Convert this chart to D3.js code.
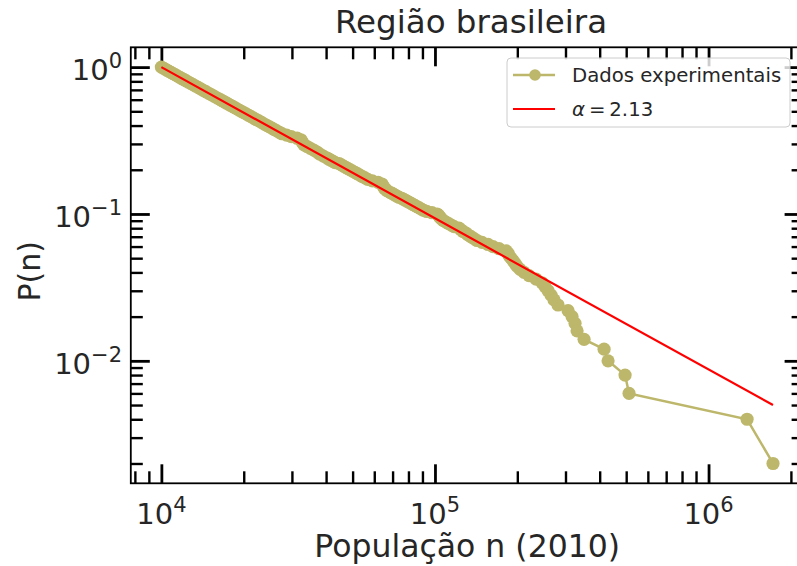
<!DOCTYPE html>
<html>
<head>
<meta charset="utf-8">
<script src="https://cdn.jsdelivr.net/npm/d3@7"></script>
<style>
  body { margin: 0; background: #ffffff; }
  svg { display: block; }
  text { font-family: "DejaVu Sans", sans-serif; }
</style>
</head>
<body>
<svg id="chart" width="797" height="566"></svg>
<script>
// Complementary cumulative distribution of municipal populations (2010)
// n: population, P(n): fraction of municipalities with population >= n
const popN = [
  10000, 10160, 10320, 10490, 10660, 10840, 11030, 11220, 11420, 11630,
  11840, 12070, 12300, 12540, 12800, 13060, 13330, 13620, 13910, 14220,
  14550, 14890, 15250, 15620, 16020, 16430, 16700, 16980, 17270, 17570,
  17880, 18200, 18530, 18880, 19240, 19610, 20000, 20410, 20830, 21270,
  21730, 22210, 22710, 23230, 23780, 24360, 24850, 25350, 25870, 26420,
  26990, 27580, 28690, 29850, 31340, 32370, 32620, 32900, 33200, 34090,
  35040, 36040, 37100, 37910, 39100, 40360, 41030, 41720, 42430, 43160,
  44670, 45470, 46300, 47170, 48070, 49000, 49970, 50990, 52040, 53140,
  54290, 55490, 56740, 59040, 61990, 64030, 64530, 65070, 65670, 66880,
  68740, 69700, 70700, 71730, 72780, 73870, 75630, 76790, 78000, 79240,
  80520, 81840, 83210, 84630, 86100, 87620, 89190, 90820, 93310, 97500,
  101900, 103100, 103900, 104700, 106000, 107400, 109700, 112200, 114800, 117500,
  122500, 124600, 126700, 129900, 132100, 135500, 139000, 142500, 148600, 156400,
  163100, 171500, 182000, 185000, 186600, 189700, 193000, 196300, 199600, 204700,
  211700, 220800, 234200, 246300, 252600, 259100, 265700, 272500, 281800, 306500,
  317000, 325100, 330700, 350800, 415100, 429300, 495300, 512200, 1383000, 1720500
];
const probP = [
  1.000, 0.984, 0.968, 0.952, 0.936, 0.920, 0.904, 0.888, 0.872, 0.856,
  0.840, 0.824, 0.808, 0.792, 0.776, 0.760, 0.744, 0.728, 0.712, 0.696,
  0.680, 0.664, 0.648, 0.632, 0.616, 0.600, 0.590, 0.580, 0.570, 0.560,
  0.550, 0.540, 0.530, 0.520, 0.510, 0.500, 0.490, 0.480, 0.470, 0.460,
  0.450, 0.440, 0.430, 0.420, 0.410, 0.400, 0.392, 0.384, 0.376, 0.368,
  0.360, 0.352, 0.344, 0.336, 0.328, 0.320, 0.312, 0.304, 0.296, 0.288,
  0.280, 0.272, 0.264, 0.256, 0.248, 0.240, 0.236, 0.232, 0.228, 0.224,
  0.220, 0.216, 0.212, 0.208, 0.204, 0.200, 0.196, 0.192, 0.188, 0.184,
  0.180, 0.176, 0.172, 0.168, 0.164, 0.160, 0.156, 0.152, 0.148, 0.144,
  0.140, 0.138, 0.136, 0.134, 0.132, 0.130, 0.128, 0.126, 0.124, 0.122,
  0.120, 0.118, 0.116, 0.114, 0.112, 0.110, 0.108, 0.106, 0.104, 0.102,
  0.100, 0.098, 0.096, 0.094, 0.092, 0.090, 0.088, 0.086, 0.084, 0.082,
  0.080, 0.078, 0.076, 0.074, 0.072, 0.070, 0.068, 0.066, 0.064, 0.062,
  0.060, 0.058, 0.056, 0.054, 0.052, 0.050, 0.048, 0.046, 0.044, 0.042,
  0.040, 0.038, 0.036, 0.034, 0.032, 0.030, 0.028, 0.026, 0.024, 0.022,
  0.020, 0.018, 0.016, 0.014, 0.012, 0.010, 0.008, 0.006, 0.004, 0.002
];

// Fitted power law, drawn between its two end points
const fitN = [10000, 1720000];
const fitP = [1.0, 0.0050];
const alphaValue = 2.13;

// Tick values and labels
const xMajorExp = [4, 5, 6];
const xMinorTicks = [8e3, 9e3, 2e4, 3e4, 4e4, 5e4, 6e4, 7e4, 8e4, 9e4,
                     2e5, 3e5, 4e5, 5e5, 6e5, 7e5, 8e5, 9e5, 2e6];
const yMajorExp = [-2, -1, 0];
const yMinorTicks = [2e-3, 3e-3, 4e-3, 5e-3, 6e-3, 7e-3, 8e-3, 9e-3,
                     2e-2, 3e-2, 4e-2, 5e-2, 6e-2, 7e-2, 8e-2, 9e-2,
                     0.2, 0.3, 0.4, 0.5, 0.6, 0.7, 0.8, 0.9];

const titleText = "Região brasileira";
const xLabelText = "População n (2010)";
const yLabelText = "P(n)";
const dataName = "Dados experimentais";

// ---- layout and styles ----
const box = { left: 130.8, right: 803.6, top: 47.3, bottom: 483.3 };
const dataColor = "#bdb76b";
const fitColor = "#ff0000";
const textColor = "#262626";
const majorLen = 19, minorLen = 12;

const svg = d3.select("#chart");

// log domain padded by 5% on each side (in log space)
function padLog(ext) {
  const lo = Math.log10(ext[0]), hi = Math.log10(ext[1]);
  const m = 0.05 * (hi - lo);
  return [Math.pow(10, lo - m), Math.pow(10, hi + m)];
}

const x = d3.scaleLog().domain(padLog(d3.extent(popN))).range([box.left, box.right]);
const y = d3.scaleLog().domain(padLog(d3.extent(probP))).range([box.bottom, box.top]);

const xMajor = xMajorExp.map(e => Math.pow(10, e));
const yMajor = yMajorExp.map(e => Math.pow(10, e));

// ---- ticks on all four sides, pointing inward ----
function drawAxis(axisGen, transform, values, len, width) {
  const g = svg.append("g")
    .attr("transform", transform)
    .call(axisGen.tickValues(values).tickSizeInner(-len).tickSizeOuter(0).tickFormat(() => ""));
  g.select(".domain").remove();
  g.selectAll(".tick line").attr("stroke", "#000").attr("stroke-width", width);
  g.selectAll(".tick text").remove();
  return g;
}

[[xMinorTicks, minorLen, 2.4], [xMajor, majorLen, 2.8]].forEach(([vals, len, w]) => {
  drawAxis(d3.axisBottom(x), `translate(0,${box.bottom})`, vals, len, w);
  drawAxis(d3.axisTop(x), `translate(0,${box.top})`, vals, len, w);
});
[[yMinorTicks, minorLen, 2.4], [yMajor, majorLen, 2.8]].forEach(([vals, len, w]) => {
  drawAxis(d3.axisLeft(y), `translate(${box.left},0)`, vals, len, w);
  drawAxis(d3.axisRight(y), `translate(${box.right},0)`, vals, len, w);
});

// frame
svg.append("rect")
  .attr("x", box.left).attr("y", box.top)
  .attr("width", box.right - box.left).attr("height", box.bottom - box.top)
  .attr("fill", "none").attr("stroke", "#000").attr("stroke-width", 1.8);

// ---- tick labels with superscript exponents ----
function expLabel(sel, e) {
  sel.append("tspan").text("10");
  sel.append("tspan")
    .attr("font-size", 21).attr("dy", -12)
    .text(e < 0 ? "\u2212" + Math.abs(e) : String(e));
}

svg.append("g").selectAll("text").data(xMajorExp).join("text")
  .attr("x", e => x(Math.pow(10, e)))
  .attr("y", 524)
  .attr("text-anchor", "middle")
  .attr("font-size", 29)
  .attr("fill", textColor)
  .each(function (e) { expLabel(d3.select(this), e); });

svg.append("g").selectAll("text").data(yMajorExp).join("text")
  .attr("x", 122)
  .attr("y", e => y(Math.pow(10, e)) + 13)
  .attr("text-anchor", "end")
  .attr("font-size", 29)
  .attr("fill", textColor)
  .each(function (e) { expLabel(d3.select(this), e); });

// ---- axis titles ----
svg.append("text")
  .attr("x", 471).attr("y", 33)
  .attr("text-anchor", "middle").attr("font-size", 32.5).attr("fill", textColor)
  .text(titleText);

svg.append("text")
  .attr("x", (box.left + box.right) / 2).attr("y", 557)
  .attr("text-anchor", "middle").attr("font-size", 31.5).attr("fill", textColor)
  .text(xLabelText);

svg.append("text")
  .attr("transform", `translate(40,${(box.top + box.bottom) / 2 + 6}) rotate(-90)`)
  .attr("text-anchor", "middle").attr("font-size", 30).attr("fill", textColor)
  .text(yLabelText);

// ---- data series ----
const points = popN.map((n, i) => ({ n, p: probP[i] }));
const line = d3.line().x(d => x(d.n)).y(d => y(d.p));

const dataG = svg.append("g");
dataG.append("path")
  .datum(points)
  .attr("d", line)
  .attr("fill", "none")
  .attr("stroke", dataColor)
  .attr("stroke-width", 2.5);
dataG.selectAll("circle").data(points).join("circle")
  .attr("cx", d => x(d.n)).attr("cy", d => y(d.p))
  .attr("r", 6.6)
  .attr("fill", dataColor);

// ---- fitted power law ----
const fitPts = fitN.map((n, i) => ({ n, p: fitP[i] }));
svg.append("path")
  .datum(fitPts)
  .attr("d", line)
  .attr("fill", "none")
  .attr("stroke", fitColor)
  .attr("stroke-width", 2.2);

// ---- legend ----
const lg = svg.append("g").attr("transform", "translate(507,58)");
lg.append("rect")
  .attr("width", 283).attr("height", 69).attr("rx", 4)
  .attr("fill", "#fff").attr("fill-opacity", 0.8)
  .attr("stroke", "#cccccc").attr("stroke-width", 1);

lg.append("line")
  .attr("x1", 6).attr("x2", 48).attr("y1", 17).attr("y2", 17)
  .attr("stroke", dataColor).attr("stroke-width", 2.5);
lg.append("circle").attr("cx", 28).attr("cy", 17).attr("r", 5.8).attr("fill", dataColor);
lg.append("text")
  .attr("x", 65).attr("y", 24).attr("font-size", 19.7).attr("fill", textColor)
  .text(dataName);

lg.append("line")
  .attr("x1", 6).attr("x2", 48).attr("y1", 51).attr("y2", 51)
  .attr("stroke", fitColor).attr("stroke-width", 2.2);
const aText = lg.append("text")
  .attr("x", 65).attr("y", 58).attr("font-size", 19.7).attr("fill", textColor);
aText.append("tspan").attr("font-style", "italic").text("\u03b1");
aText.append("tspan").text("\u2009=\u2009" + alphaValue.toFixed(2));
</script>
</body>
</html>
